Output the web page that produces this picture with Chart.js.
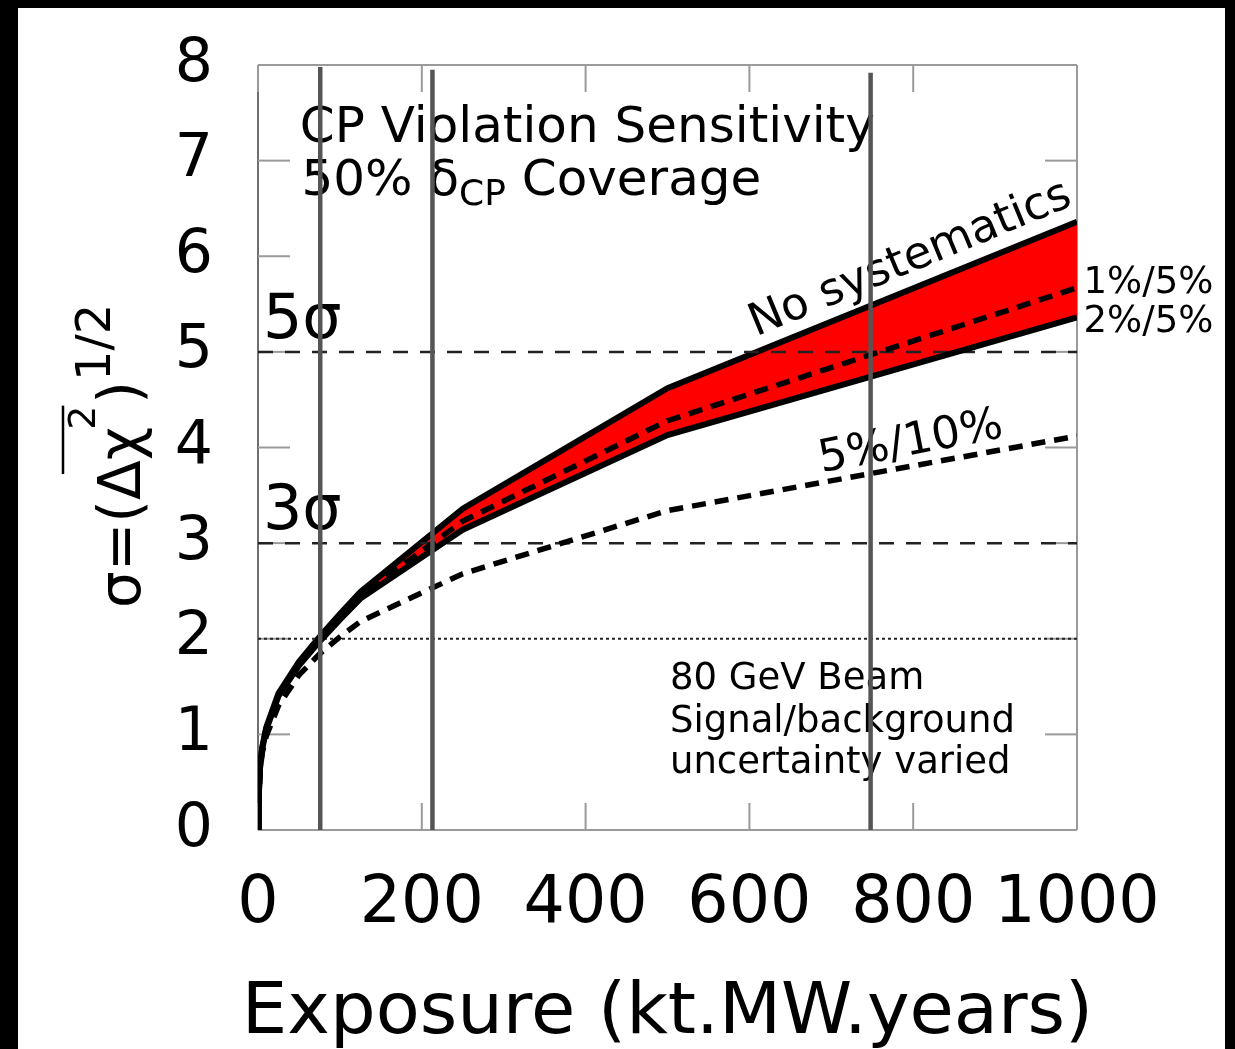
<!DOCTYPE html>
<html>
<head>
<meta charset="utf-8">
<script src="https://cdn.jsdelivr.net/npm/chart.js@4.4.0/dist/chart.umd.min.js"></script>
<style>
  html, body { margin: 0; background: #000; }
  #wrap { position: absolute; left: 18px; top: 8px; width: 1207px; height: 1041px; background: #fff; }
  canvas { display: block; }
</style>
</head>
<body>
<div id="wrap"><canvas id="chart" width="1207" height="1041"></canvas></div>
<script>
// exposure in kt.MW.years
const exposure = [0, 1, 2.5, 5, 10, 25, 50, 75, 100, 125, 250, 500, 1000];
// sensitivity curves (sigma)
const noSyst  = [0, 0.38, 0.66, 0.86, 1.07, 1.43, 1.76, 2.02, 2.26, 2.49, 3.36, 4.62, 6.36];
const sys1_5  = [0, 0.37, 0.65, 0.85, 1.06, 1.41, 1.74, 1.99, 2.23, 2.45, 3.23, 4.28, 5.67];
const sys2_5  = [0, 0.37, 0.65, 0.84, 1.05, 1.40, 1.72, 1.97, 2.20, 2.42, 3.14, 4.13, 5.36];
const sys5_10 = [0, 0.35, 0.60, 0.80, 0.98, 1.30, 1.62, 1.84, 2.02, 2.18, 2.68, 3.34, 4.12];

// vertical markers (exposure) and their top end
const markerX   = [76, 213, 748];
const markerTop = [7.98, 7.95, 7.92];
const sigmaLevels = [5, 3];
const beamLevel = 2;
const xRange = [0, 1000];
const yRange = [0, 8];
const xTickLabels = ['0', '200', '400', '600', '800', '1000'];
const yTickLabels = ['0', '1', '2', '3', '4', '5', '6', '7', '8'];
const xTitle = 'Exposure (kt.MW.years)';

const FONT = "'DejaVu Sans', 'Liberation Sans', sans-serif";
const f = size => size + 'px ' + FONT;

const pts = ys => exposure.map((x, i) => ({x: x, y: ys[i]}));
const curve = (ys, dash, extra) => Object.assign({
  data: pts(ys), borderColor: '#000', borderWidth: 6, borderDash: dash,
  pointRadius: 0, tension: 0, fill: false, borderCapStyle: 'butt'
}, extra || {});

const datasets = [];
markerX.forEach((mx, i) => datasets.push({
  data: [{x: mx, y: 0}, {x: mx, y: markerTop[i]}],
  borderColor: '#555', borderWidth: 4.5, pointRadius: 0, fill: false
}));
datasets.push(curve(sys1_5, [14, 9], {borderWidth: 5.5}));
const sys25Index = datasets.push(curve(sys2_5, [])) - 1;
datasets.push(curve(sys5_10, [14, 9], {borderWidth: 5.5}));
sigmaLevels.forEach(s => datasets.push({
  data: xRange.map(x => ({x: x, y: s})),
  borderColor: '#222', borderWidth: 2.5, borderDash: [15, 12], pointRadius: 0, fill: false
}));
datasets.push({
  data: xRange.map(x => ({x: x, y: beamLevel})),
  borderColor: '#222', borderWidth: 2, borderDash: [3, 3], pointRadius: 0, fill: false
});
datasets.push(curve(noSyst, [], {fill: {target: sys25Index}, backgroundColor: '#ff0000'}));

const decorations = {
  id: 'decorations',
  beforeDatasetsDraw(chart) {
    const {ctx, chartArea: a, scales: {x, y}} = chart;
    const line = (x1, y1, x2, y2) => { ctx.beginPath(); ctx.moveTo(x1, y1); ctx.lineTo(x2, y2); ctx.stroke(); };
    ctx.save();
    ctx.lineWidth = 2;
    ctx.strokeStyle = '#9a9a9a';
    line(a.left, a.top, a.right, a.top);
    line(a.right, a.top, a.right, a.bottom);
    line(a.left, a.bottom, a.right, a.bottom);
    ctx.strokeStyle = '#707070';
    line(a.left, a.top, a.left, a.bottom);
    ctx.strokeStyle = '#9a9a9a';
    x.ticks.forEach(t => {
      const p = x.getPixelForValue(t.value);
      line(p, a.bottom, p, a.bottom - 27);
      line(p, a.top, p, a.top + 27);
    });
    y.ticks.forEach(t => {
      const p = y.getPixelForValue(t.value);
      line(a.left, p, a.left + 32, p);
      line(a.right, p, a.right - 32, p);
    });

    ctx.fillStyle = '#000';
    ctx.textBaseline = 'alphabetic';
    ctx.textAlign = 'left';
    const put = (str, xv, yv, size, rot) => {
      ctx.save();
      ctx.font = f(size);
      ctx.translate(x.getPixelForValue(xv), y.getPixelForValue(yv));
      if (rot) ctx.rotate(rot * Math.PI / 180);
      ctx.fillText(str, 0, 0);
      ctx.restore();
    };
    put('CP Violation Sensitivity', 51, 7.20, 50);
    // second title line with subscript
    let px = x.getPixelForValue(53), py = y.getPixelForValue(6.64);
    ctx.font = f(50);
    ctx.fillText('50% \u03b4', px, py);
    px += ctx.measureText('50% \u03b4').width;
    ctx.font = f(36);
    ctx.fillText('CP', px, py + 10);
    px += ctx.measureText('CP').width;
    ctx.font = f(50);
    ctx.fillText(' Coverage', px, py);

    put('5\u03c3', 6, 5.14, 62);
    put('3\u03c3', 6, 3.15, 62);
    put('80 GeV Beam', 503, 1.475, 37);
    put('Signal/background', 503, 1.025, 37);
    put('uncertainty varied', 503, 0.596, 37);
    put('1%/5%', 1008, 5.62, 37);
    put('2%/5%', 1008, 5.21, 37);
    put('No systematics', 608, 5.16, 45, -22.5);
    put('5%/10%', 688, 3.74, 45, -11);
    ctx.restore();
  },
  afterDraw(chart) {
    const {ctx, chartArea: a} = chart;
    ctx.save();
    ctx.fillStyle = '#000';
    ctx.strokeStyle = '#000';
    // x axis title
    ctx.font = f(72);
    ctx.textAlign = 'center';
    ctx.textBaseline = 'alphabetic';
    ctx.fillText(xTitle, (a.left + a.right) / 2, 1025);

    // y axis title: sigma = (overline{Delta chi^2})^{1/2}
    ctx.textAlign = 'left';
    ctx.translate(122, 600);
    ctx.rotate(-Math.PI / 2);
    let p = 0;
    ctx.font = f(58);
    ctx.fillText('\u03c3=(', p, 0);
    p += ctx.measureText('\u03c3=(').width;
    const ovStart = p + 26;
    ctx.fillText('\u0394\u03c7', p, 0);
    p += ctx.measureText('\u0394\u03c7').width - 3;
    ctx.font = f(38);
    ctx.fillText('2', p, -45);
    p += ctx.measureText('2').width;
    ctx.lineWidth = 2.5;
    ctx.beginPath(); ctx.moveTo(ovStart, -77); ctx.lineTo(p, -77); ctx.stroke();
    ctx.font = f(58);
    ctx.fillText(')', p + 2, 0);
    p += ctx.measureText(')').width + 2;
    ctx.font = f(48);
    ctx.fillText('1/2', p, -30);
    ctx.restore();
  }
};

new Chart(document.getElementById('chart').getContext('2d'), {
  type: 'line',
  data: {datasets: datasets},
  options: {
    responsive: false,
    devicePixelRatio: 1,
    animation: false,
    layout: {padding: {left: 0, right: 148, top: 57, bottom: 0}},
    plugins: {legend: {display: false}, tooltip: {enabled: false}},
    scales: {
      x: {
        type: 'linear', min: xRange[0], max: xRange[1],
        grid: {display: false, drawTicks: false}, border: {display: false},
        ticks: {stepSize: 200, padding: 36, autoSkip: false, color: '#000', maxRotation: 0,
                font: {family: FONT, size: 65}, callback: (v, i) => xTickLabels[i]},
        afterFit: s => { s.height = 219; }
      },
      y: {
        type: 'linear', min: yRange[0], max: yRange[1],
        grid: {display: false, drawTicks: false}, border: {display: false},
        ticks: {stepSize: 1, padding: 45, color: '#000',
                font: {family: FONT, size: 60, lineHeight: 0.3}, callback: (v, i) => yTickLabels[i]},
        afterFit: s => { s.width = 240; }
      }
    }
  },
  plugins: [decorations]
});
</script>
</body>
</html>
